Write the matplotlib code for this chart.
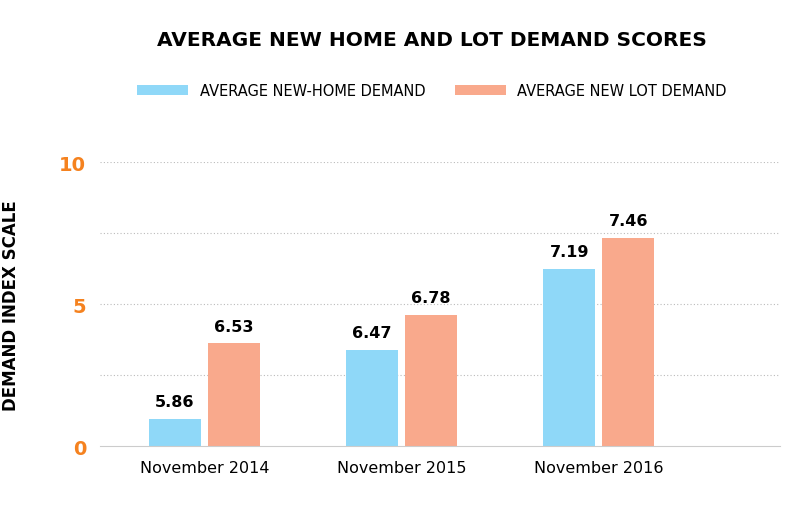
import matplotlib
matplotlib.use("Agg")
import matplotlib.pyplot as plt
import numpy as np

categories = ["November 2014", "November 2015", "November 2016"]
home = [5.86, 6.47, 7.19]
lot = [6.53, 6.78, 7.46]
tick_labels = ["0", "5", "10"]

plt.rcParams['font.family'] = ['DejaVu Sans']
base, top = 5.62, 8.13
fig = plt.figure(figsize=(8, 5.1), dpi=100)
ax = fig.add_axes([0.125, 0.123, 0.85, 0.557])
x = np.arange(len(categories))
w = 0.265
b1 = ax.bar(x - w/2 - 0.017, np.array(home) - base, w, bottom=base, color="#8fd8f8", label="AVERAGE NEW-HOME DEMAND")
b2 = ax.bar(x + w/2 + 0.017, np.array(lot) - base, w, bottom=base, color="#f9a98c", label="AVERAGE NEW LOT DEMAND")
for bars, vals in ((b1, home), (b2, lot)):
    for r, v in zip(bars, vals):
        ax.annotate(f"{v:.2f}", (r.get_x() + r.get_width()/2, v), xytext=(0, 7), textcoords="offset points",
                    ha="center", va="bottom", fontsize=11.5, fontweight="bold")
ax.set_xlim(-0.53, 2.92)
ax.set_ylim(base, top)
ticks = np.linspace(base, top, 3)
ax.set_yticks(ticks)
ax.set_yticklabels(tick_labels, color="#f5821f", fontsize=14, fontweight="bold")
for g in np.linspace(base, top, 5)[1:]:
    ax.axhline(g, color="#bbbbbb", ls=(0, (1, 2)), lw=0.8, zorder=0)
ax.set_xticks(x)
ax.set_xticklabels(categories, fontsize=11.5)
ax.tick_params(length=0, pad=10)
for s in ["top", "right", "left"]:
    ax.spines[s].set_visible(False)
ax.spines["bottom"].set_color("#cccccc")
ax.set_ylabel("DEMAND INDEX SCALE", fontsize=12, fontweight="bold", labelpad=28)
fig.text(0.54, 0.92, "AVERAGE NEW HOME AND LOT DEMAND SCORES", ha="center", va="center", fontsize=14.5, fontweight="bold")
fig.legend(handles=[b1, b2], loc="center", bbox_to_anchor=(0.54, 0.82), ncol=2, frameon=False, fontsize=10.5,
           handlelength=3.5, handleheight=0.7, columnspacing=2.0)
fig.savefig("out.png", dpi=100)
